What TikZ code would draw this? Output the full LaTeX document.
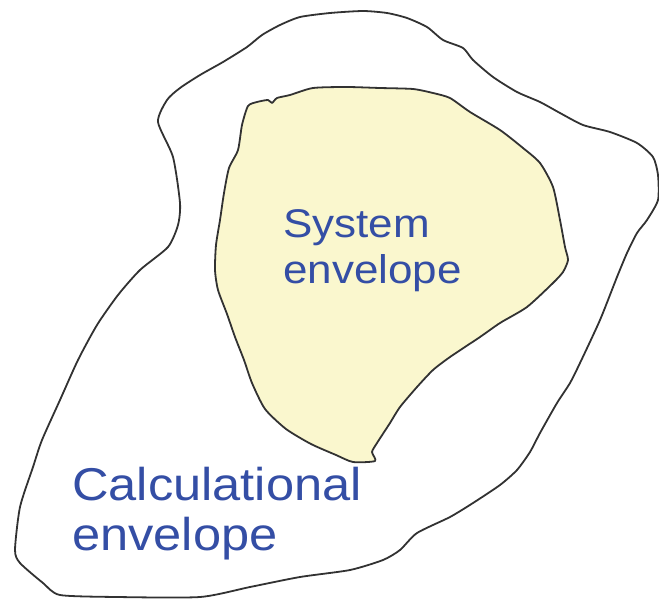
\documentclass[tikz,border=0pt]{standalone}
\usepackage{fontspec}
\setmainfont{Liberation Sans}
\definecolor{envfill}{RGB}{250,247,206}
\definecolor{envtext}{RGB}{52,78,165}
\definecolor{envline}{RGB}{50,50,50}
\begin{document}
\begin{tikzpicture}[x=1pt,y=-1pt,
  outline/.style={draw=envline,line width=1.8pt,line join=round},
  envlabel/.style={text=envtext,align=left,inner sep=0pt,anchor=base west,xscale=1.1}]
\useasboundingbox (0,0) rectangle (659,600);
% calculational envelope
\draw[outline] plot[smooth cycle,tension=0.4] coordinates {
 (158,122) (167,100) (180,88) (200,75) (223,62) (247,47) (262,35) (280,25)
 (300,17) (330,13) (363,11) (387,13) (407,18) (427,27) (443,40) (463,48)
 (473,60) (493,77) (517,92) (540,102) (560,113) (583,125) (610,132)
 (637,143) (653,157) (658,175) (658,200) (647,220) (637,233) (627,253)
 (617,277) (600,320) (580,363) (570,383) (557,403) (540,433) (530,452)
 (517,470) (500,485) (473,503) (450,517) (417,533) (400,550) (383,560)
 (350,570) (300,577) (250,587) (200,597) (117,597) (60,595) (43,583)
 (20,563) (15,550) (20,507) (33,467) (42,440) (60,400) (78,360) (97,325)
 (118,295) (140,270) (168,247) (178,225) (180,203) (173,157)};
% system envelope
\filldraw[outline,fill=envfill] plot[smooth cycle,tension=0.4] coordinates {
 (248,106) (257,102) (268,100) (272,103) (277,98) (290,95) (313,88) (347,87)
 (380,88) (413,89) (433,93) (450,98) (470,112) (500,130) (523,148) (540,163)
 (553,187) (560,220) (565,247) (568,260) (563,272) (553,283) (527,307)
 (500,323) (480,337) (450,357) (433,370) (417,387) (400,407) (390,423)
 (377,443) (372,452) (375,461) (353,462) (336,455) (311,444) (286,429)
 (265,409) (252,383) (244,360) (235,337) (227,314) (218,290) (215,270)
 (216,245) (220,220) (224,193) (229,168) (238,150) (242,125)};
\node[envlabel,font=\fontsize{40}{46}\selectfont] (sys) at (283,283) {System\\envelope};
\node[envlabel,font=\fontsize{46}{50}\selectfont] (calc) at (72,550) {Calculational\\envelope};
\end{tikzpicture}
\end{document}
